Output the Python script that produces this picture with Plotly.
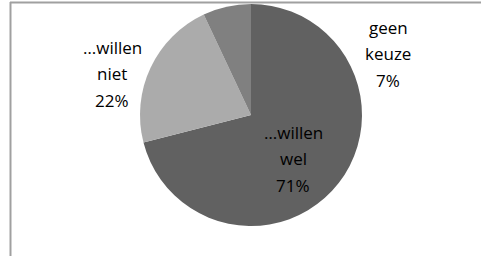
import plotly.graph_objects as go

labels = ["…willen wel", "…willen niet", "geen keuze"]
values = [71, 22, 7]
colors = ["#616161", "#ababab", "#808080"]

W, H = 481, 256

fig = go.Figure(go.Pie(
    labels=labels, values=values, sort=False, direction="clockwise", rotation=0,
    marker=dict(colors=colors, line=dict(width=0)),
    textinfo="none", hoverinfo="label+percent", showlegend=False,
    domain=dict(x=[140 / W, 362 / W], y=[30 / H, 252 / H]),
))

# label anchor centres (px, from top-left) and per-line spacing
label_pos = [(293, 132), (112, 47), (388, 27)]
line_gap = 26.5
total = sum(values)
for lab, val, (cx, cy) in zip(labels, values, label_pos):
    lines = lab.split(" ") + [f"{round(100 * val / total)}%"]
    for i, t in enumerate(lines):
        fig.add_annotation(
            x=cx / W, y=1 - (cy + i * line_gap) / H, xref="paper", yref="paper",
            text=t, showarrow=False, xanchor="center", yanchor="middle",
            font=dict(family="Open Sans", size=17, color="#000000"),
        )

# chart-area border (left and top edges visible)
fig.add_shape(type="line", xref="paper", yref="paper",
              x0=10.5 / W, x1=10.5 / W, y0=0, y1=1 - 2 / H,
              line=dict(color="#a0a0a0", width=2))
fig.add_shape(type="line", xref="paper", yref="paper",
              x0=10 / W, x1=1, y0=1 - 2.5 / H, y1=1 - 2.5 / H,
              line=dict(color="#a0a0a0", width=2))

fig.update_layout(
    width=W, height=H, margin=dict(l=0, r=0, t=0, b=0),
    paper_bgcolor="#ffffff", plot_bgcolor="#ffffff",
)
fig.write_html("out.html", config={"displayModeBar": False},
               post_script="document.body.style.margin='0';")
